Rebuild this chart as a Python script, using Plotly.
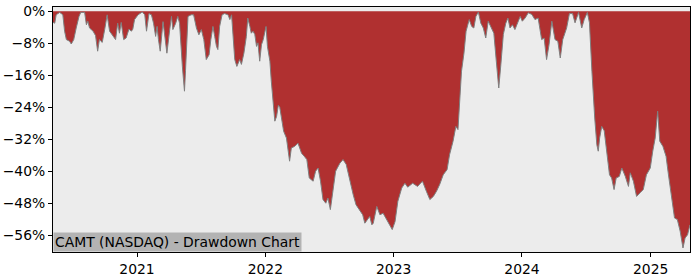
import plotly.graph_objects as go

# Drawdown series (date, drawdown in %)
dates = [
    "2020-05-07", "2020-05-12", "2020-05-16", "2020-05-26", "2020-06-04", "2020-06-09", "2020-06-14",
    "2020-06-23", "2020-06-28", "2020-07-05", "2020-07-12", "2020-07-20", "2020-07-25", "2020-08-05",
    "2020-08-10", "2020-08-14", "2020-08-19", "2020-08-29", "2020-09-05", "2020-09-11", "2020-09-16",
    "2020-09-24", "2020-10-01", "2020-10-08", "2020-10-15", "2020-10-24", "2020-11-01", "2020-11-07",
    "2020-11-12", "2020-11-17", "2020-11-24", "2020-12-01", "2020-12-09", "2020-12-16", "2020-12-20",
    "2020-12-25",
    "2021-01-04", "2021-01-16", "2021-01-23", "2021-01-28", "2021-02-04", "2021-02-11", "2021-02-17",
    "2021-02-23", "2021-02-27", "2021-03-03", "2021-03-08", "2021-03-16", "2021-03-22", "2021-03-27",
    "2021-04-04", "2021-04-09", "2021-04-13", "2021-04-21", "2021-04-27", "2021-05-02", "2021-05-10",
    "2021-05-16", "2021-05-19", "2021-05-26", "2021-06-04", "2021-06-11", "2021-06-19", "2021-06-26",
    "2021-07-03", "2021-07-10", "2021-07-17", "2021-07-25", "2021-07-30", "2021-08-05", "2021-08-10",
    "2021-08-15", "2021-08-19", "2021-08-24", "2021-08-31", "2021-09-07", "2021-09-17", "2021-09-22",
    "2021-09-27", "2021-10-01", "2021-10-06", "2021-10-12", "2021-10-20", "2021-10-25", "2021-11-01",
    "2021-11-08", "2021-11-12", "2021-11-18", "2021-11-22", "2021-11-27", "2021-12-02", "2021-12-07",
    "2021-12-11", "2021-12-16", "2021-12-21", "2021-12-26",
    "2022-01-03", "2022-01-07", "2022-01-14", "2022-01-18", "2022-01-23", "2022-01-28", "2022-02-02",
    "2022-02-07", "2022-02-11", "2022-02-16", "2022-02-22", "2022-03-02", "2022-03-07", "2022-03-11",
    "2022-03-16", "2022-03-25", "2022-04-04", "2022-04-14", "2022-04-22", "2022-04-29", "2022-05-06",
    "2022-05-17", "2022-05-24", "2022-05-31", "2022-06-07", "2022-06-14", "2022-06-22", "2022-06-28",
    "2022-07-05", "2022-07-13", "2022-07-20", "2022-08-01", "2022-08-10", "2022-08-19", "2022-08-29",
    "2022-09-08", "2022-09-16", "2022-09-27", "2022-10-05", "2022-10-11", "2022-10-20", "2022-10-25",
    "2022-10-31", "2022-11-04", "2022-11-14", "2022-11-23", "2022-12-02", "2022-12-12", "2022-12-21",
    "2022-12-28",
    "2023-01-05", "2023-01-13", "2023-01-24", "2023-02-02", "2023-02-10", "2023-02-24", "2023-03-10",
    "2023-03-24", "2023-04-04", "2023-04-14", "2023-04-24", "2023-05-03", "2023-05-12", "2023-05-22",
    "2023-06-02", "2023-06-09", "2023-06-19", "2023-06-27", "2023-07-03", "2023-07-07", "2023-07-13",
    "2023-07-20", "2023-07-26", "2023-08-04", "2023-08-11", "2023-08-17", "2023-08-23", "2023-08-30",
    "2023-09-06", "2023-09-13", "2023-09-20", "2023-09-27", "2023-10-06", "2023-10-13", "2023-10-20",
    "2023-10-27", "2023-11-02", "2023-11-09", "2023-11-16", "2023-11-22", "2023-11-28", "2023-12-05",
    "2023-12-12", "2023-12-18", "2023-12-27",
    "2024-01-02", "2024-01-10", "2024-01-19", "2024-01-29", "2024-02-07", "2024-02-16", "2024-02-26",
    "2024-03-04", "2024-03-11", "2024-03-18", "2024-03-26", "2024-04-04", "2024-04-12", "2024-04-19",
    "2024-04-26", "2024-05-07", "2024-05-15", "2024-05-24", "2024-05-31", "2024-06-10", "2024-06-19",
    "2024-06-26", "2024-07-05", "2024-07-11", "2024-07-18", "2024-07-22", "2024-07-26", "2024-08-01",
    "2024-08-05", "2024-08-09", "2024-08-15", "2024-08-22", "2024-08-29", "2024-09-06", "2024-09-12",
    "2024-09-19", "2024-09-25", "2024-10-04", "2024-10-11", "2024-10-21", "2024-10-30", "2024-11-04",
    "2024-11-13", "2024-11-22", "2024-12-02", "2024-12-11", "2024-12-20", "2024-12-31",
    "2025-01-07", "2025-01-14", "2025-01-21", "2025-01-27", "2025-02-05", "2025-02-14", "2025-02-20",
    "2025-03-03", "2025-03-10", "2025-03-18", "2025-03-26", "2025-04-03", "2025-04-09", "2025-04-16",
    "2025-04-23",
]
drawdown = [
    -2.8, -3.0, -0.9, -0.3, -0.9, -5.0, -7.1,
    -7.5, -8.2, -7.1, -4.2, -1.3, -0.3, -0.3,
    -3.4, -2.5, -4.2, -5.0, -6.1, -10.0, -7.1,
    -7.8, -4.6, -0.9, -5.0, -6.3, -7.1, -3.0,
    -5.5, -2.8, -7.1, -6.7, -4.5, -5.0, -4.5,
    -2.1,
    -0.9, -0.2, -0.9, -5.0, -0.6, -0.9, -3.0,
    -6.3, -3.8, -7.1, -10.0, -2.6, -7.1, -10.5,
    -4.6, -1.3, -4.6, -3.0, -1.3, -3.0, -13.8,
    -20.0, -14.8, -1.3, -0.9, -0.9, -4.2, -5.9,
    -4.6, -7.1, -12.1, -10.9, -7.1, -3.8, -6.3,
    -8.8, -9.6, -3.8, -0.9, -0.6, -0.9, -2.1,
    -0.9, -6.3, -12.1, -13.8, -12.1, -13.3, -10.5,
    -6.3, -1.7, -3.8, -5.5, -5.0, -5.8, -8.8,
    -7.9, -12.5, -8.4, -7.1,
    -3.8, -8.8, -12.5, -17.5, -23.4, -27.5, -26.3,
    -23.5, -24.0, -26.7, -30.0, -31.7, -35.0, -37.5,
    -34.2, -33.8, -33.0, -35.5, -36.3, -37.1, -41.7,
    -42.5, -40.0, -39.2, -42.5, -47.1, -48.0, -46.7,
    -49.6, -45.0, -40.0, -38.0, -37.1, -38.3, -42.5,
    -45.9, -48.4, -50.0, -50.9, -53.0, -52.0, -51.3,
    -53.4, -53.0, -48.8, -50.9, -50.5, -52.1, -53.4,
    -54.6,
    -52.6, -47.5, -44.2, -43.0, -44.0, -43.0, -43.8,
    -42.5, -45.0, -47.1, -46.3, -45.0, -43.3, -40.9,
    -39.6, -35.9, -32.5, -28.8, -29.6, -23.4, -15.0,
    -10.5, -5.0, -2.1, -3.8, -4.2, -1.3, -0.2,
    -3.0, -4.2, -6.7, -2.5, -4.2, -5.5, -12.5,
    -19.2, -13.3, -5.8, -3.0, -1.7, -4.2, -3.4,
    -4.6, -3.4, -1.3,
    -2.5, -1.7, -0.4, -0.8, -2.1, -1.7, -7.1,
    -6.7, -12.1, -8.4, -2.5, -7.1, -7.5, -11.7,
    -7.1, -4.2, -0.6, -0.6, -2.9, -0.3, -4.2,
    -2.1, -0.3, -2.9, -15.0, -22.5, -26.7, -33.4,
    -35.0, -31.7, -28.8, -29.9, -35.0, -40.9, -41.7,
    -44.6, -41.7, -41.3, -39.2, -41.3, -43.8, -40.4,
    -42.5, -46.3, -45.4, -44.6, -40.9, -39.2,
    -35.0, -31.7, -25.0, -32.5, -33.8, -36.3, -40.4,
    -46.7, -51.7, -52.1, -55.0, -59.2, -56.7, -55.9,
    -53.4,
]

y_ticks = [0, -8, -16, -24, -32, -40, -48, -56]
x_ticks = ["2021-01-01", "2022-01-01", "2023-01-01", "2024-01-01", "2025-01-01"]
x_tick_labels = ["2021", "2022", "2023", "2024", "2025"]
title_text = "CAMT (NASDAQ) - Drawdown Chart"

fig = go.Figure()
fig.add_trace(go.Scatter(
    x=dates, y=drawdown, mode="lines", fill="tozeroy",
    fillcolor="#b03030", line=dict(color="#7f7f7f", width=1),
    hoverinfo="skip", showlegend=False,
))

font = dict(family="DejaVu Sans", size=13.9, color="#000000")

fig.update_layout(
    width=700, height=280,
    margin=dict(l=53, r=10, t=7, b=28, autoexpand=False),
    paper_bgcolor="white", plot_bgcolor="#ececec",
    font=font,
    showlegend=False,
    xaxis=dict(
        range=["2020-05-07", "2025-04-23"],
        tickvals=x_ticks, ticktext=x_tick_labels,
        showgrid=False, zeroline=False, automargin=False,
        showline=True, linecolor="black", linewidth=1, mirror=True,
        ticks="outside", ticklen=4, tickcolor="black", tickwidth=1,
        tickfont=font,
    ),
    yaxis=dict(
        range=[-60.2, 1.05],
        tickvals=y_ticks, ticktext=[("\u2212" if v < 0 else "") + str(abs(v)) + "%" for v in y_ticks],
        showgrid=False, zeroline=False, automargin=False,
        showline=True, linecolor="black", linewidth=1, mirror=True,
        ticks="outside", ticklen=4, tickcolor="black", tickwidth=1,
        tickfont=font,
    ),
    annotations=[dict(
        text=title_text, xref="paper", yref="paper", x=0, y=0,
        xanchor="left", yanchor="bottom", showarrow=False,
        bgcolor="#b3b3b3", borderpad=1, font=font,
    )],
)

fig.write_html("out.html")
